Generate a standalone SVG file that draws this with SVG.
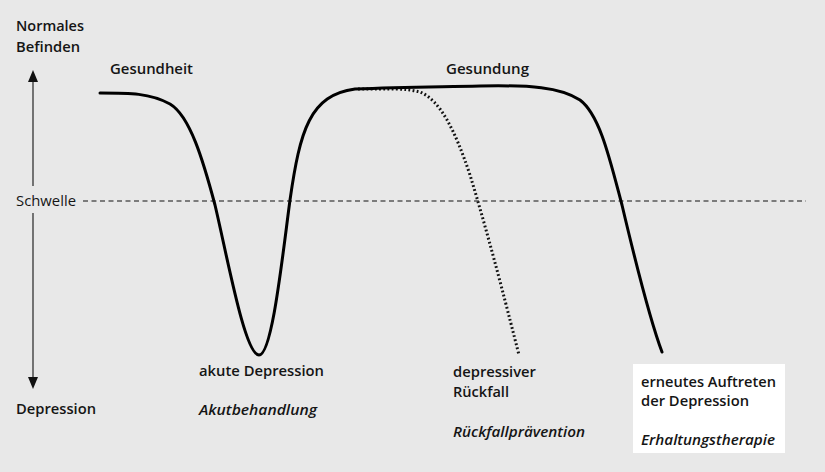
<svg xmlns="http://www.w3.org/2000/svg" width="825" height="472" viewBox="0 0 825 472">
<style>
text{font-family:"Open Sans","Liberation Sans",sans-serif;font-size:15px;fill:#151515;font-weight:600}
.it{font-style:italic}
.ax{font-weight:500}
.curve{fill:none;stroke:#000;stroke-width:3;stroke-linecap:round}
.dot{fill:none;stroke:#111;stroke-width:3;stroke-dasharray:1.8,2.4}
</style>
<rect width="825" height="472" fill="#e8e8e8"/>
<g id="axis">
<line x1="33" y1="186" x2="33" y2="82" stroke="#333" stroke-width="1.3"/>
<path d="M28,82 L38,82 L33,70 Z" fill="#111"/>
<line x1="33" y1="213" x2="33" y2="377" stroke="#333" stroke-width="1.3"/>
<path d="M28,377 L38,377 L33,389 Z" fill="#111"/>
<text x="16" y="31" textLength="68" lengthAdjust="spacingAndGlyphs">Normales</text>
<text x="16" y="52" textLength="64" lengthAdjust="spacingAndGlyphs">Befinden</text>
<text x="16" y="206" class="ax" textLength="60" lengthAdjust="spacingAndGlyphs">Schwelle</text>
<text x="16" y="414" textLength="80" lengthAdjust="spacingAndGlyphs">Depression</text>
</g>
<g id="threshold">
<line x1="83" y1="201" x2="806" y2="201" stroke="#111" stroke-width="1.2" stroke-dasharray="5,3.5"/>
</g>
<g id="connectors">
<path class="dot" d="M358,89 C390,89 405,88 420,92 C440,100 455,130 470,175 C490,240 510,320 519,355"/>
<path class="curve" d="M100,93 C130,93 150,93 170,104 C190,116 203,160 215,205 C228,260 245,355 259,355 C272,355 282,260 290,200 C300,130 310,95 355,89 C400,87 430,87 480,86 C530,85 560,87 580,100 C600,115 610,160 622,205 C635,260 650,320 662,352"/>
</g>
<g id="gesundheit"><text x="110" y="74" textLength="83" lengthAdjust="spacingAndGlyphs">Gesundheit</text></g>
<g id="gesundung"><text x="446" y="74" textLength="83" lengthAdjust="spacingAndGlyphs">Gesundung</text></g>
<g id="akut">
<text x="199" y="376" textLength="125" lengthAdjust="spacingAndGlyphs">akute Depression</text>
<text x="199" y="415" class="it" textLength="118" lengthAdjust="spacingAndGlyphs">Akutbehandlung</text>
</g>
<g id="rueckfall">
<text x="453" y="377" textLength="83" lengthAdjust="spacingAndGlyphs">depressiver</text>
<text x="453" y="397" textLength="56" lengthAdjust="spacingAndGlyphs">Rückfall</text>
<text x="453" y="437" class="it" textLength="132" lengthAdjust="spacingAndGlyphs">Rückfallprävention</text>
</g>
<g id="erneut">
<rect x="633" y="364" width="152" height="89" fill="#fff"/>
<text x="641" y="387" textLength="135" lengthAdjust="spacingAndGlyphs">erneutes Auftreten</text>
<text x="641" y="406" textLength="108" lengthAdjust="spacingAndGlyphs">der Depression</text>
<text x="641" y="445" class="it" textLength="134" lengthAdjust="spacingAndGlyphs">Erhaltungstherapie</text>
</g>
</svg>
